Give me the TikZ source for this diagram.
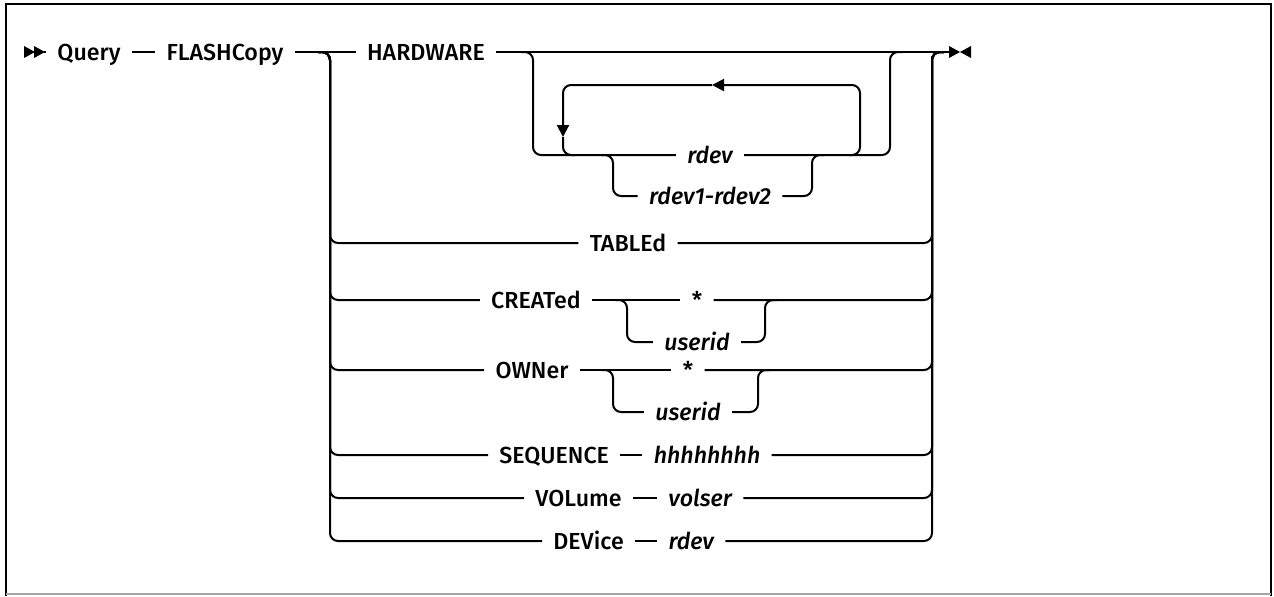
\documentclass[tikz,border=0pt]{standalone}
\usepackage{fontspec}
\setmainfont{Fira Sans Medium}[ItalicFont={Fira Sans Medium Italic}]
\usetikzlibrary{arrows.meta,positioning,calc}
\tikzset{
  rail/.style={line width=1pt,rounded corners=4pt},
  kw/.style={inner xsep=5.5pt,inner ysep=0pt,text height=8pt,text depth=0pt,font=\fontsize{11.6}{14}\selectfont},
  var/.style={kw,font=\fontsize{11.6}{14}\selectfont\itshape},
  tip/.style={-{Triangle[length=6pt,width=6pt]}},
}

\begin{document}
\begin{tikzpicture}[x=0.5pt,y=-0.5pt]
  \useasboundingbox (0,0) rectangle (1274,596);
  % frame
  \draw[line width=1.2pt] (6,596) -- (6,4) -- (1271,4) -- (1271,596);
  \draw[gray!70,line width=.6pt] (6,594) -- (1271,594);

  % start and end marks
  \coordinate (start) at (44,52);
  \coordinate (stop) at (950,52);
  \fill (24,46) -- (35,52) -- (24,58) -- cycle;
  \fill (34,46) -- (45,52) -- (34,58) -- cycle;
  \fill (949,46) -- (960,52) -- (949,58) -- cycle;
  \fill (971,46) -- (960,52) -- (971,58) -- cycle;

  % main line
  \node[kw] (query) at (89,52) {Query};
  \node[kw] (flash) at (225,52) {FLASHCopy};
  \node[kw] (hw) at (426,52) {HARDWARE};
  \draw[rail] (start) -- (query);
  \draw[rail] (query) -- (flash);
  \draw[rail] (flash) -- (hw);
  \draw[rail] (hw) -- (stop);

  % HARDWARE device list
  \coordinate (hwsplit) at (521,52);
  \coordinate (hwdown) at (533,52);
  \coordinate (hwup) at (890,52);
  \coordinate (hwjoin) at (902,52);
  \node[var] (rdev) at (710,155) {rdev};
  \node[var] (range) at (710,196) {rdev1-rdev2};
  \draw[rail] (hwsplit) -| (hwdown |- rdev) -- (rdev);
  \draw[rail] (rdev) -| (hwup) -- (hwjoin);
  \coordinate (rsplit) at (601,155);
  \coordinate (rdown) at (613,155);
  \coordinate (rup) at (812,155);
  \coordinate (rjoin) at (824,155);
  \draw[rail] (rsplit) -| (rdown |- range) -- (range);
  \draw[rail] (range) -| (rup) -- (rjoin);

  % repeat loop
  \coordinate (loopstart) at (848,155);
  \coordinate (loopR) at (860,155);
  \coordinate (looptop) at (712,85);
  \coordinate (loopdown) at (563,137);
  \coordinate (loopend) at (575,155);
  \draw[rail,tip] (loopstart) -| (loopR |- looptop) -- (looptop);
  \draw[rail,tip] (looptop) -| (loopdown);
  \draw[rail] (loopdown) |- (loopend);

  % other operands
  \coordinate (split) at (318,52);
  \coordinate (colL) at (330,52);
  \coordinate (colR) at (932,52);
  \coordinate (join) at (944,52);
  \node[kw] (tabled) at (628,243) {TABLEd};
  \node[kw] (created) at (536,300) {CREATed};
  \node[kw] (cstar) at (697,300) {*};
  \node[var] (cuser) at (697,342) {userid};
  \node[kw] (owner) at (532,370) {OWNer};
  \node[kw] (ostar) at (688,370) {*};
  \node[var] (ouser) at (688,412) {userid};
  \node[kw,anchor=west] (seq) at (488,455) {SEQUENCE};
  \node[var,right=11pt of seq] (hex) {hhhhhhhh};
  \node[kw,anchor=west] (vol) at (524,498) {VOLume};
  \node[var,right=12pt of vol] (volser) {volser};
  \node[kw,anchor=west] (dev) at (542,541) {DEVice};
  \node[var,right=11pt of dev] (devaddr) {rdev};
  \foreach \a/\b in {tabled/tabled,created/cstar,owner/ostar,seq/hex,vol/volser,dev/devaddr}{
    \draw[rail] (split) -| (colL |- \a) -- (\a);
    \draw[rail] (\b) -| (colR) -- (join);
  }
  \draw[rail] (created) -- (cstar);
  \draw[rail] (owner) -- (ostar);
  \draw[rail] (seq) -- (hex);
  \draw[rail] (vol) -- (volser);
  \draw[rail] (dev) -- (devaddr);

  % userid brackets
  \coordinate (csplit) at (615,300);
  \coordinate (cdown) at (627,300);
  \coordinate (cup) at (765,300);
  \coordinate (cjoin) at (777,300);
  \draw[rail] (csplit) -| (cdown |- cuser) -- (cuser);
  \draw[rail] (cuser) -| (cup) -- (cjoin);
  \coordinate (osplit) at (601,370);
  \coordinate (odown) at (613,370);
  \coordinate (oup) at (758,370);
  \coordinate (ojoin) at (770,370);
  \draw[rail] (osplit) -| (odown |- ouser) -- (ouser);
  \draw[rail] (ouser) -| (oup) -- (ojoin);
\end{tikzpicture}
\end{document}
